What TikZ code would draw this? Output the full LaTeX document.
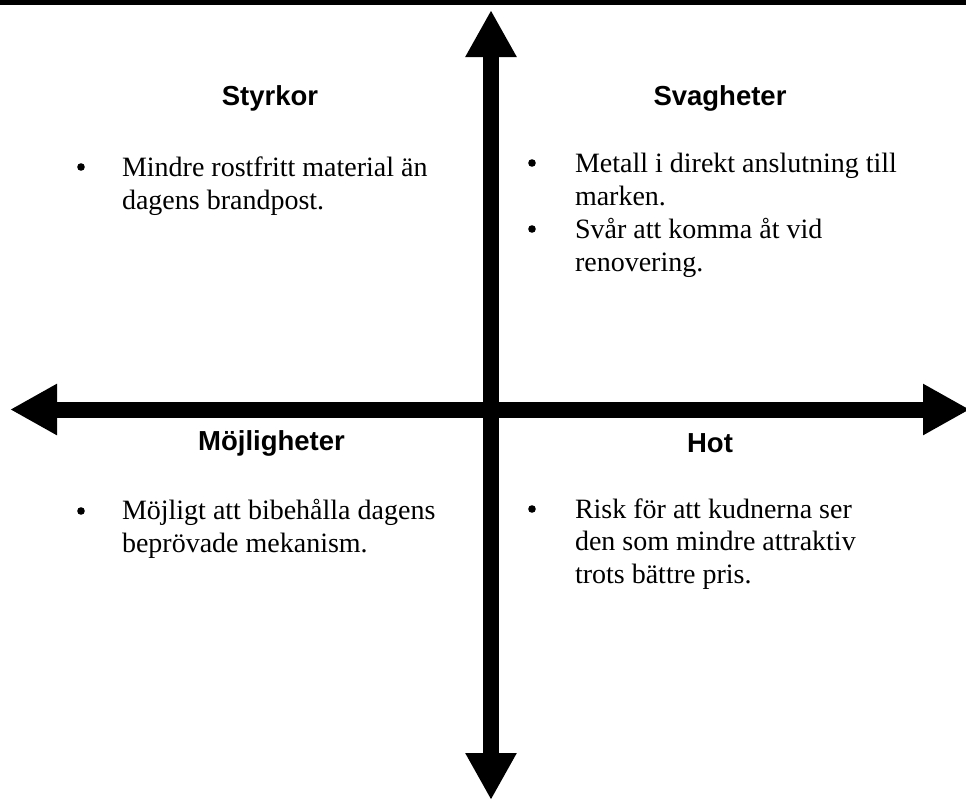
\documentclass[tikz,border=0pt]{standalone}
\usepackage{fontspec}
\setmainfont{Liberation Serif}
\setsansfont{Liberation Sans}
\usetikzlibrary{arrows.meta}

\begin{document}
\begin{tikzpicture}[
  x=0.5pt, y=-0.5pt,
  every node/.style={inner sep=0pt, outer sep=0pt},
  heading/.style={font=\sffamily\bfseries\fontsize{13.75}{16.25}\selectfont, anchor=base},
  % anchor=base sits on the last line of a wrapped node
  bodytext/.style={font=\fontsize{14}{16.25}\selectfont, align=left, anchor=base west},
  dot/.style={circle, fill, minimum size=3.8pt},
  bigarrow/.style={line width=8pt, {Triangle[length=23.5pt,width=24pt]}-{Triangle[length=23.5pt,width=24pt]}}
]
\useasboundingbox (0,0) rectangle (966,800);

% Bar along the top edge
\fill (0,0) rectangle (966,4.5);

% Axes
\coordinate (ytop) at (491,10);
\coordinate (ybot) at (491,800);
\coordinate (xleft) at (10,409.5);
\coordinate (xright) at (970,409.5);
\draw[bigarrow] (ybot) -- (ytop);
\draw[bigarrow] (xleft) -- (xright);

% Quadrant headings
\node[heading] (styrkor) at (270,105) {Styrkor};
\node[heading] (svagheter) at (720,105) {Svagheter};
\node[heading] (mojligheter) at (271.5,450) {Möjligheter};
\node[heading] (hot) at (710,452) {Hot};

% Styrkor
\node[dot] (s1dot) at (81,167) {};
\node[bodytext] (s1) at (122,209) {Mindre rostfritt material än\\dagens brandpost.};

% Svagheter
\node[dot] (w1dot) at (532,163) {};
\node[bodytext] (w1) at (575,205) {Metall i direkt anslutning till\\marken.};
\node[dot] (w2dot) at (532,229) {};
\node[bodytext] (w2) at (575,271) {Svår att komma åt vid\\renovering.};

% Möjligheter
\node[dot] (o1dot) at (81,511) {};
\node[bodytext] (o1) at (122,552) {Möjligt att bibehålla dagens\\beprövade mekanism.};

% Hot
\node[dot] (t1dot) at (532,509) {};
\node[bodytext] (t1) at (575,583) {Risk för att kudnerna ser\\den som mindre attraktiv\\trots bättre pris.};

\end{tikzpicture}
\end{document}
